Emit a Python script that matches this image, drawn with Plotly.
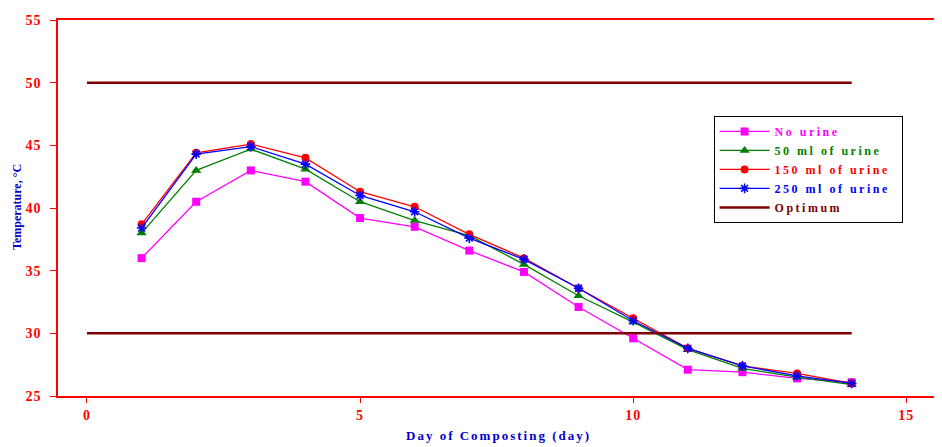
import plotly.graph_objects as go

days = [1, 2, 3, 4, 5, 6, 7, 8, 9, 10, 11, 12, 13, 14]
no_urine = [36.0, 40.5, 43.0, 42.1, 39.2, 38.5, 36.6, 34.9, 32.1, 29.6, 27.1, 26.9, 26.4, 26.1]
ml50 = [38.0, 43.0, 44.7, 43.1, 40.5, 39.0, 37.8, 35.5, 33.0, 30.9, 28.7, 27.2, 26.5, 25.9]
ml150 = [38.7, 44.4, 45.1, 44.0, 41.3, 40.1, 37.9, 36.0, 33.6, 31.2, 28.8, 27.4, 26.8, 26.0]
ml250 = [38.4, 44.3, 44.9, 43.5, 41.0, 39.7, 37.6, 35.9, 33.6, 31.0, 28.8, 27.4, 26.6, 26.0]
opt_x = [0, 14]
opt_low = [30, 30]
opt_high = [50, 50]
x_ticks = [0, 5, 10, 15]
y_ticks = [25, 30, 35, 40, 45, 50, 55]

names = ["No urine", "50 ml of urine", "150 ml of urine", "250 ml of urine", "Optimum"]
colors = ["#ff00ff", "#008000", "#ff0000", "#0000ff", "#800000"]
symbols = ["square", "triangle-up", "circle", "asterisk-open"]
sizes = [8, 9, 8, 8]
series = [no_urine, ml50, ml150, ml250]


def spaced(text, color, ls):
    return f"<span style='color:{color};letter-spacing:{ls}px'>{text}</span>"


fig = go.Figure()
for i, ys in enumerate(series):
    mk = dict(symbol=symbols[i], size=sizes[i], color=colors[i])
    if symbols[i] == "asterisk-open":
        mk["line"] = dict(color=colors[i], width=1.6)
    fig.add_trace(go.Scatter(
        x=days, y=ys, mode="lines+markers",
        name=spaced(names[i], colors[i], 2.5) + ("&nbsp;&nbsp;" if i == 2 else ""),
        line=dict(color=colors[i], width=1.3),
        marker=mk,
    ))

fig.add_trace(go.Scatter(
    x=opt_x, y=opt_high, mode="lines",
    name=spaced(names[4], colors[4], 2.5),
    line=dict(color=colors[4], width=2.5),
))
fig.add_trace(go.Scatter(
    x=opt_x, y=opt_low, mode="lines", showlegend=False,
    line=dict(color=colors[4], width=2.5),
))

tickfont = dict(family="Liberation Serif", size=14, color="#ff0000", weight="bold")
titlefont = dict(family="Liberation Serif", size=13, color="#0000cc", weight="bold")
fig.update_layout(
    width=934, height=439,
    margin=dict(l=50, r=4, t=12, b=51, autoexpand=False),
    plot_bgcolor="white", paper_bgcolor="white",
    font=dict(family="Liberation Serif"),
    showlegend=True,
    legend=dict(
        x=0.745, y=0.745, xanchor="left", yanchor="top",
        bordercolor="black", borderwidth=1, bgcolor="white",
        font=dict(family="Liberation Serif", size=12, weight="bold"),
        tracegroupgap=0, itemwidth=50,
    ),
    xaxis=dict(
        range=[-0.53, 15.58], tickvals=x_ticks,
        ticktext=[spaced(str(t), "#ff0000", 1) for t in x_ticks], automargin=False,
        showgrid=False, zeroline=False,
        showline=True, linecolor="#ff0000", linewidth=1.5, mirror=True,
        ticks="outside", ticklen=5, tickcolor="#ff0000",
        tickfont=tickfont, ticklabelstandoff=0,
    ),
    yaxis=dict(
        range=[25, 55], tickvals=y_ticks,
        ticktext=[spaced(str(t), "#ff0000", 1) for t in y_ticks], automargin=False,
        showgrid=False, zeroline=False,
        showline=True, linecolor="#ff0000", linewidth=1.5, mirror=True,
        ticks="outside", ticklen=6, tickcolor="#ff0000",
        tickfont=tickfont, ticklabelstandoff=6,
    ),
    annotations=[
        dict(text=spaced("Day of Composting (day)", "#0000cc", 2),
             xref="paper", yref="paper",
             x=(498 - 58) / 880, y=0, yanchor="middle", yshift=-(435 - 396),
             showarrow=False, font=titlefont),
        dict(text="Temperature, °C", xref="paper", yref="paper",
             x=-50 / 880, y=(396 - 207) / 376, textangle=-90,
             showarrow=False, font=dict(family="Liberation Serif", size=12,
                                        color="#0000cc", weight="bold")),
    ],
)

fig.write_html("out.html")
